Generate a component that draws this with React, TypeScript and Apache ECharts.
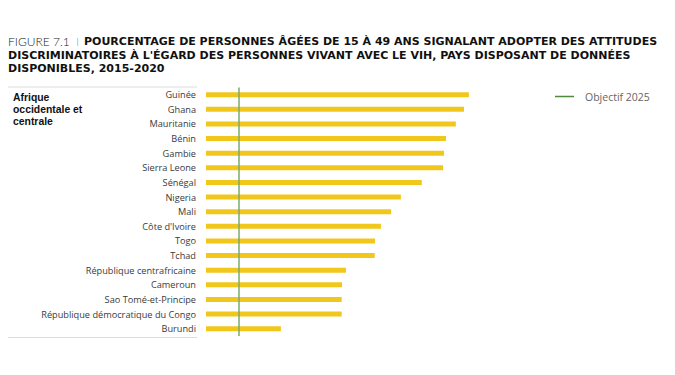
import React, { useEffect, useRef } from "react";
import * as echarts from "echarts";

const countries = [
  "Guinée",
  "Ghana",
  "Mauritanie",
  "Bénin",
  "Gambie",
  "Sierra Leone",
  "Sénégal",
  "Nigeria",
  "Mali",
  "Côte d'Ivoire",
  "Togo",
  "Tchad",
  "République centrafricaine",
  "Cameroun",
  "Sao Tomé-et-Principe",
  "République démocratique du Congo",
  "Burundi",
];
const values = [80.4, 78.9, 76.4, 73.4, 72.8, 72.5, 66.0, 59.6, 56.6, 53.5, 51.7, 51.6, 42.8, 41.6, 41.5, 41.5, 22.9];
const target = 10;
const targetLabel = "Objectif 2025";
const regionLines = ["Afrique", "occidentale et", "centrale"];
const titleFigure = "FIGURE 7.1";
const titleLines = [
  "POURCENTAGE DE PERSONNES ÂGÉES DE 15 À 49 ANS SIGNALANT ADOPTER DES ATTITUDES",
  "DISCRIMINATOIRES À L'ÉGARD DES PERSONNES VIVANT AVEC LE VIH, PAYS DISPOSANT DE DONNÉES",
  "DISPONIBLES, 2015-2020",
];

export default function App() {
  const ref = useRef<HTMLDivElement>(null);
  useEffect(() => {
    if (!ref.current) return;
    const chart = echarts.init(ref.current, null, { renderer: "svg" });
    const font = "'Open Sans', sans-serif";
    const tFont = "'DejaVu Sans', sans-serif";
    const tSize = 11;
    const titleGraphics: any[] = [
      {
        type: "text",
        x: 8,
        y: 41,
        style: {
          text: titleFigure,
          fontFamily: "Lato, sans-serif",
          fontSize: 12,
          fontWeight: 300,
          fill: "#222",
          verticalAlign: "middle",
          lineHeight: 12,
        },
      },
      {
        type: "text",
        x: 75.5,
        y: 40.5,
        style: {
          text: "|",
          fontFamily: font,
          fontSize: 8,
          fontWeight: 300,
          fill: "#444",
          verticalAlign: "middle",
          lineHeight: 9,
        },
      },
      ...titleLines.map((t, i) => ({
        type: "text",
        x: i === 0 ? 84 : 8,
        y: 41.5 + i * 13.5,
        style: {
          text: t,
          fontFamily: tFont,
          fontSize: tSize,
          fontWeight: 700,
          fill: "#111",
          verticalAlign: "middle",
          lineHeight: 12,
        },
      })),
    ];
    const regionGraphics = regionLines.map((t, i) => ({
      type: "text",
      x: 13,
      y: 97 + i * 12,
      style: {
        text: t,
        fontFamily: "'Liberation Sans', Arial, sans-serif",
        fontSize: 10.4,
        fontWeight: 700,
        fill: "#111",
        verticalAlign: "middle",
        lineHeight: 11,
      },
    }));
    chart.setOption({
      animation: false,
      backgroundColor: "#ffffff",
      grid: { left: 206, top: 87.4, width: 327, bottom: 39, containLabel: false },
      xAxis: {
        type: "value",
        min: 0,
        max: 100,
        show: false,
      },
      yAxis: {
        type: "category",
        data: countries,
        inverse: true,
        axisLine: { show: false },
        axisTick: { show: false },
        splitLine: { show: false },
        axisLabel: {
          fontFamily: font,
          fontSize: 9.2,
          color: "#3a3a3a",
          margin: 10,
          align: "right",
        },
      },
      series: [
        {
          type: "bar",
          data: values,
          barWidth: 5,
          itemStyle: { color: "#F2C71C" },
          markLine: {
            silent: true,
            symbol: "none",
            label: { show: false },
            lineStyle: { color: "#7ca86c", width: 1.5, type: "solid" },
            data: [{ xAxis: target }],
          },
        },
      ],
      graphic: [
        ...titleGraphics,
        {
          type: "line",
          shape: { x1: 8, y1: 87, x2: 197, y2: 87 },
          style: { stroke: "#dcdcdc", lineWidth: 1 },
        },
        {
          type: "line",
          shape: { x1: 8, y1: 337.5, x2: 197, y2: 337.5 },
          style: { stroke: "#dcdcdc", lineWidth: 1 },
        },
        ...regionGraphics,
        {
          type: "line",
          shape: { x1: 555, y1: 96.5, x2: 574, y2: 96.5 },
          style: { stroke: "#4f8a3f", lineWidth: 1.5 },
        },
        {
          type: "text",
          x: 585,
          y: 97,
          style: {
            text: targetLabel,
            fontFamily: font,
            fontSize: 10.5,
            fill: "#666",
            verticalAlign: "middle",
          },
        },
      ],
    });
    return () => chart.dispose();
  }, []);
  return <div ref={ref} style={{ width: 675, height: 375, position: "absolute", left: 0, top: 0 }} />;
}
